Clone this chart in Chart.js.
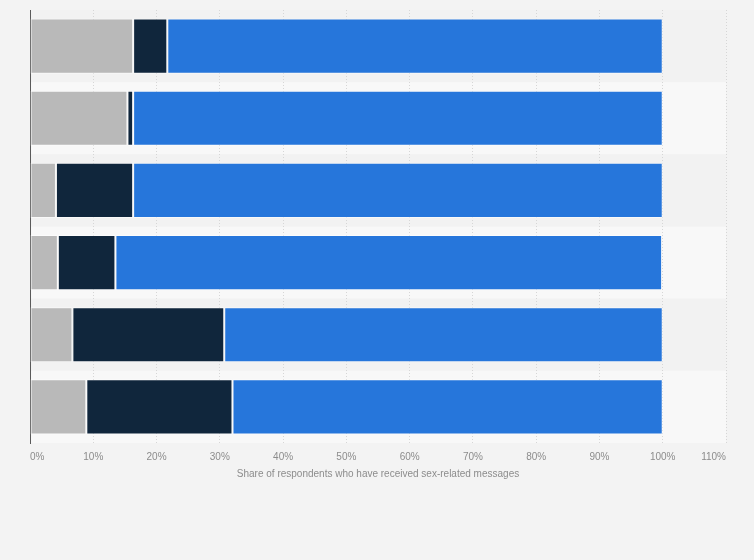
<!DOCTYPE html>
<html>
<head>
<meta charset="utf-8">
<script src="https://cdn.jsdelivr.net/npm/chart.js@4/dist/chart.umd.min.js"></script>
<style>
    html, body { margin: 0; padding: 0; background: #f3f3f3; }
    #wrap { width: 754px; height: 560px; position: relative; }
</style>
</head>
<body>
<div id="wrap"><canvas id="chart"></canvas></div>
<script>
// Share of respondents who have received sex-related messages (stacked, %)
const categories = ['Category 1', 'Category 2', 'Category 3', 'Category 4', 'Category 5', 'Category 6'];
const noAnswerValues = [16.3, 15.4, 4.1, 4.4, 6.7, 8.9];
const yesValues = [5.4, 0.9, 12.2, 9.1, 24.0, 23.1];
const noValues = [78.3, 83.7, 83.7, 86.4, 69.3, 68.0];
const xMax = 110;
const xStep = 10;
const axisTitle = 'Share of respondents who have received sex-related messages';

// alternating row stripes behind the bars
const rowBands = {
    id: 'rowBands',
    beforeDraw(chart) {
        const { ctx, chartArea, scales } = chart;
        const y = scales.y;
        const half = (y.getPixelForValue(1) - y.getPixelForValue(0)) / 2;
        ctx.save();
        categories.forEach((c, i) => {
            const mid = y.getPixelForValue(i);
            ctx.fillStyle = i % 2 === 0 ? '#f2f2f2' : '#f8f8f8';
            ctx.fillRect(chartArea.left, mid - half, chartArea.right - chartArea.left, half * 2);
        });
        ctx.restore();
    }
};

const font = { family: '"Liberation Sans", Arial, sans-serif', size: 10 };

const makeSet = (label, data, color) => ({
    label,
    data,
    backgroundColor: color,
    borderColor: 'rgba(255, 255, 255, 0.55)',
    borderWidth: 1,
    borderSkipped: false,
    categoryPercentage: 1,
    barPercentage: 0.765
});

new Chart(document.getElementById('chart').getContext('2d'), {
    type: 'bar',
    data: {
        labels: categories,
        datasets: [
            makeSet('No answer', noAnswerValues, '#b9b9b9'),
            makeSet('Yes', yesValues, '#10263c'),
            makeSet('No', noValues, '#2676db')
        ]
    },
    options: {
        indexAxis: 'y',
        responsive: true,
        maintainAspectRatio: false,
        animation: false,
        layout: { padding: { top: 10, right: 28, bottom: 80, left: 0 } },
        scales: {
            x: {
                stacked: true,
                min: 0,
                max: xMax,
                ticks: {
                    stepSize: xStep,
                    color: '#8c8c8c',
                    font,
                    padding: 8,
                    align: 'inner',
                    maxRotation: 0,
                    callback: v => v + '%'
                },
                grid: { color: '#d6d6d6', drawTicks: false, lineWidth: 1 },
                border: { display: false, dash: [1, 2] },
                title: {
                    display: true,
                    text: axisTitle,
                    color: '#8c8c8c',
                    font,
                    padding: { top: 6, bottom: 0 }
                },
                afterFit(axis) { axis.height = 37; }
            },
            y: {
                stacked: true,
                ticks: { display: false },
                grid: { display: false },
                border: { display: true, color: '#5a5a5a', width: 1 },
                afterFit(axis) { axis.width = 30; }
            }
        },
        plugins: {
            legend: { display: false },
            tooltip: { enabled: false }
        }
    },
    plugins: [rowBands]
});
</script>
</body>
</html>
